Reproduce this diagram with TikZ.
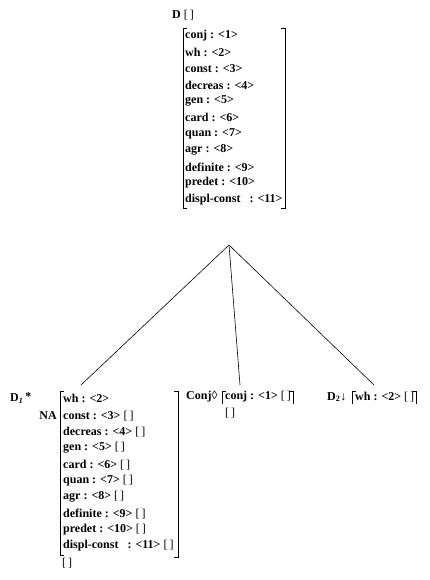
\documentclass[tikz,border=0pt]{standalone}
\usepackage{fontspec}
\setmainfont{Liberation Serif}
\begin{document}
\begin{tikzpicture}[x=1pt,y=-1pt,
  lbl/.style={anchor=west,inner sep=0pt,font=\fontsize{12}{14}\selectfont\bfseries},
  brk/.style={line width=0.7pt},
  edge/.style={line width=0.6pt}]
\useasboundingbox (0,0) rectangle (429,580);
\newcommand{\eb}{{\mdseries[\kern2pt]}}
% top AVM
\node[lbl] (topD) at (172,15) {D \eb};
\foreach \t/\y [count=\i] in {conj : <1>/36, wh : <2>/52, const : <3>/69, decreas : <4>/85, gen : <5>/101, card : <6>/117, quan : <7>/134, agr : <8>/150, definite : <9>/167, predet : <10>/183, {displ-const \ \ : <11>}/200}
  \node[lbl] (t\i) at (185,\y) {\t};
\draw[brk] (187,28) -- (183,28) -- (183,208) -- (187,208);
\draw[brk] (281,28) -- (285,28) -- (285,208) -- (281,208);
% tree
\coordinate (root) at (229,245);
\coordinate (c1) at (81,385);
\coordinate (c2) at (240,385);
\coordinate (c3) at (374,385);
\draw[edge] (root) -- (c1);
\draw[edge] (root) -- (c2);
\draw[edge] (root) -- (c3);
% bottom left
\node[lbl] (d1) at (10,398) {D\textsubscript{\itshape 1}\,\raisebox{1pt}{*}};
\node[lbl,anchor=east] (na) at (57,416) {NA};
\node[lbl] (b1) at (63,398) {wh : <2>};
\foreach \t/\y [count=\i] in {const : <3> \eb/416, decreas : <4> \eb/432, gen : <5> \eb/448, card : <6> \eb/465, quan : <7> \eb/481, agr : <8> \eb/497, definite : <9> \eb/514, predet : <10> \eb/530, {displ-const \ \ : <11> \eb}/546}
  \node[lbl] (bl\i) at (63,\y) {\t};
\node[lbl] (blend) at (62,563) {\eb};
\draw[brk] (64,391) -- (60,391) -- (60,555) -- (64,555);
\draw[brk] (174,391) -- (178,391) -- (178,557) -- (174,557);
\coordinate (ytop) at (0,391);
\coordinate (ybot) at (0,404);
% bottom middle
\node[lbl] (conj) at (186,397) {Conj◊};
\node[lbl] (cv) at (225,397) {conj : <1> \eb};
\node[lbl] (cvend) at (225,413) {\eb};
\draw[brk] (226,391) -- (222,391) -- (222,404);
\coordinate (cvr) at ([xshift=2pt]cv.east);
\draw[brk] ([xshift=-4pt]cvr |- ytop) -- (cvr |- ytop) -- (cvr |- ybot);
% bottom right
\node[lbl] (d2) at (327,397) {D\textsubscript{2}↓};
\node[lbl] (dv) at (355,397) {wh : <2> \eb};
\draw[brk] (356,391) -- (352,391) -- (352,404);
\coordinate (dvr) at ([xshift=2pt]dv.east);
\draw[brk] ([xshift=-4pt]dvr |- ytop) -- (dvr |- ytop) -- (dvr |- ybot);
\end{tikzpicture}
\end{document}
